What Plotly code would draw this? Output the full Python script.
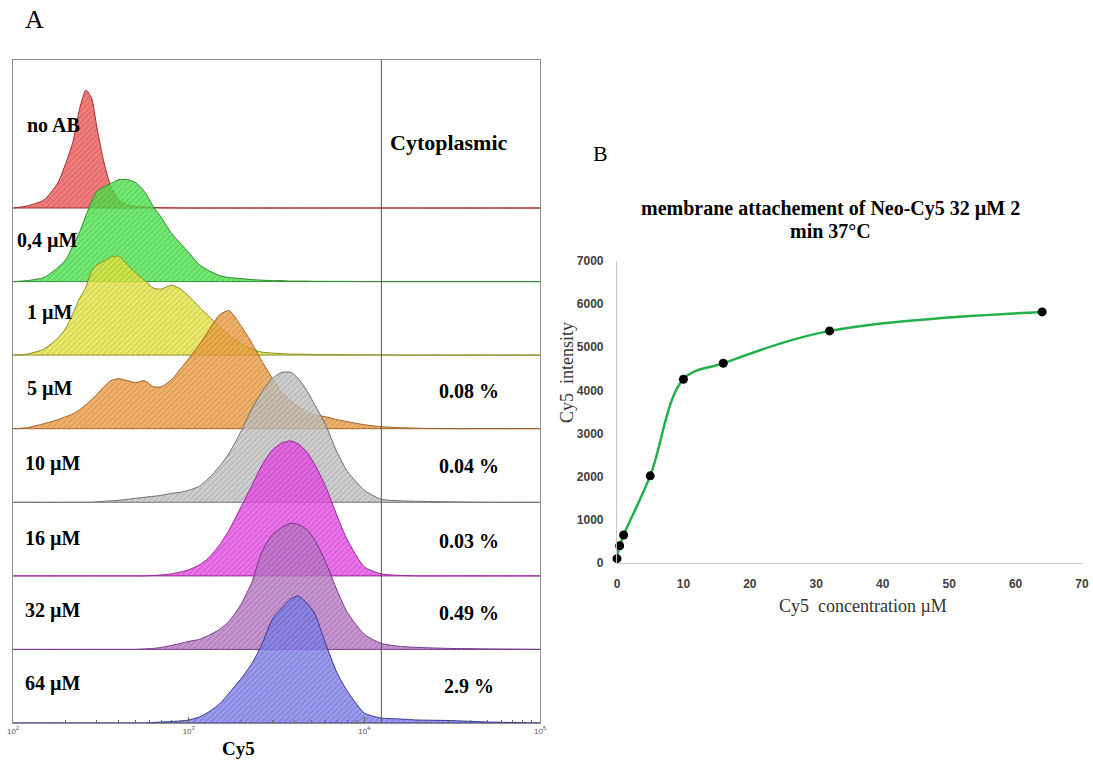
import plotly.graph_objects as go

W, H = 1093, 764

# ---------------- Panel A data (flow cytometry histograms) ----------------
cy5_intensity = [100, 120, 150, 180, 200, 220, 240, 260, 280, 300, 330, 360, 400, 450, 500,
                 560, 630, 700, 800, 900, 1000, 1150, 1300, 1500, 1700, 2000, 2300, 2600,
                 3000, 3400, 3800, 4200, 4700, 5200, 6000, 7000, 8000, 10000, 12500, 16000,
                 20000, 30000, 50000, 100000]

samples = ["no AB", "0,4 µM", "1 µM", "5 µM", "10 µM", "16 µM", "32 µM", "64 µM"]

counts_noAB = [0, 2, 8, 25, 45, 67, 100, 118, 110, 81, 45, 22, 8, 3, 1.5,
               1, 0.5, 0.3, 0.2, 0, 0, 0, 0, 0, 0, 0, 0, 0,
               0, 0, 0, 0, 0, 0, 0, 0, 0, 0, 0, 0, 0, 0, 0, 0]
counts_04 = [0, 1, 4, 14, 22, 36, 50, 66, 80, 90, 95, 98, 102, 102, 99,
             90, 75, 64, 48, 38, 29, 17, 11, 6, 4, 3, 2, 1.5,
             1, 1, 0.5, 0.5, 0.5, 0.3, 0.3, 0.2, 0.2, 0, 0, 0, 0, 0, 0, 0]
counts_1 = [0, 1, 6, 17, 27, 42, 57, 68, 84, 90, 94, 98, 99, 90, 82,
            75, 67, 66, 70, 66, 59, 48, 39, 28, 20, 11, 6, 3,
            2, 1.5, 1, 1, 0.8, 0.6, 0.5, 0.4, 0.3, 0.2, 0.2, 0, 0, 0, 0, 0]
counts_5 = [0, 1, 5, 9, 12, 15, 19, 24, 29, 34, 42, 48, 50, 48, 46,
            48, 42, 42, 49, 60, 70, 84, 98, 114, 118, 102, 85, 68,
            50, 36, 28, 22, 17, 14, 12, 9, 7, 4, 2, 1, 0.5, 0, 0, 0]
counts_10 = [0, 0, 0, 0, 0, 0, 0, 0, 0, 0.5, 1, 1.5, 2, 3, 4,
             5, 6, 7, 9, 10, 12, 16, 24, 36, 49, 72, 94, 110,
             124, 130, 130, 124, 112, 98, 78, 50, 31, 12, 3, 1.5, 1, 0.5, 0, 0]
counts_16 = [0, 0, 0, 0, 0, 0, 0, 0, 0, 0, 0, 0, 0, 0, 0,
             0, 0.5, 1, 2, 4, 6, 11, 18, 31, 46, 70, 91, 110,
             126, 133, 135, 132, 124, 112, 90, 60, 36, 9, 2, 0.5, 0, 0, 0, 0]
counts_32 = [0, 0, 0, 0, 0, 0, 0, 0, 0, 0, 0, 0, 0, 0, 0,
             0.5, 1, 2, 4, 6, 8, 10, 14, 20, 28, 46, 68, 97,
             115, 122, 126, 125, 120, 110, 88, 59, 37, 15, 6, 3, 2, 1, 0.5, 0]
counts_64 = [0, 0, 0, 0, 0, 0, 0, 0, 0, 0, 0, 0, 0, 0, 0,
             0, 0.5, 1, 1.5, 2, 3, 6, 11, 19, 30, 45, 60, 78,
             104, 115, 124, 127, 120, 110, 80, 50, 32, 10, 5, 4, 3, 2.5, 1, 0]
all_counts = [counts_noAB, counts_04, counts_1, counts_5, counts_10, counts_16, counts_32, counts_64]

row_offsets = [515, 441.4, 367.9, 294.3, 220.7, 147.1, 73.6, 0]

cytoplasmic_pct = ["", "", "", "0.08 %", "0.04 %", "0.03 %", "0.49 %", "2.9 %"]
gate_threshold = 12500

fill_rgb = [(238, 90, 90), (75, 228, 75), (230, 230, 65), (236, 156, 66),
            (195, 195, 195), (230, 75, 230), (185, 120, 195), (128, 128, 234)]
line_rgb = [(160, 45, 45), (45, 140, 45), (140, 140, 35), (160, 95, 35),
            (110, 110, 110), (150, 35, 150), (115, 55, 135), (55, 55, 145)]

# ---------------- Panel B data ----------------
conc_uM = [0, 0.4, 1, 5, 10, 16, 32, 64]
intensity = [100, 400, 650, 2020, 4260, 4630, 5380, 5820]

fig = go.Figure()

for i, name in enumerate(samples):
    off = row_offsets[i]
    top = [off + c for c in all_counts[i]]
    xs = cy5_intensity + cy5_intensity[::-1]
    ys = top + [off] * len(cy5_intensity)
    fr, fg_, fb = fill_rgb[i]
    lr, lg, lb = line_rgb[i]
    fig.add_trace(go.Scatter(
        x=xs, y=ys, mode="lines", fill="toself",
        fillcolor=f"rgba({fr},{fg_},{fb},0.78)",
        fillpattern=dict(shape="/", bgcolor=f"rgba({fr},{fg_},{fb},0.78)",
                         fgcolor=f"rgba({lr},{lg},{lb},0.6)", size=4, solidity=0.3),
        line=dict(color=f"rgb({lr},{lg},{lb})", width=1, shape="spline", smoothing=0.6),
        showlegend=False, xaxis="x", yaxis="y", hoverinfo="skip"))

fig.add_trace(go.Scatter(x=[gate_threshold, gate_threshold], y=[0, 663], mode="lines",
                         line=dict(color="#555555", width=1), showlegend=False,
                         xaxis="x", yaxis="y"))

fig.add_trace(go.Scatter(x=conc_uM, y=intensity, mode="lines+markers",
                         line=dict(color="#22b04b", width=2.5, shape="spline", smoothing=1.0),
                         marker=dict(color="black", size=9), cliponaxis=False,
                         showlegend=False, xaxis="x2", yaxis="y2"))


def px(x):
    return x / W


def py(y):
    return 1 - y / H


serif = "Liberation Serif, Times New Roman, serif"
tickfontB = dict(family="Liberation Sans, Arial", size=12, color="#404040", weight="bold")

fig.update_layout(
    width=W, height=H, margin=dict(l=0, r=0, t=0, b=0, autoexpand=False),
    paper_bgcolor="white", plot_bgcolor="rgba(0,0,0,0)",
    xaxis=dict(domain=[px(13), px(540)], type="log", range=[2, 5], automargin=False,
               showline=True, mirror=True, linecolor="#8c8c8c", linewidth=1,
               showgrid=False, zeroline=False,
               tickvals=[100, 1000, 10000, 100000],
               ticktext=["10<sup>2</sup>", "10<sup>3</sup>", "10<sup>4</sup>", "10<sup>5</sup>"],
               ticks="inside", ticklen=6, tickcolor="#666666",
               minor=dict(ticks="inside", ticklen=3, tickcolor="#666666",
                          tickvals=[m * 10 ** e for e in (2, 3, 4) for m in range(2, 10)]),
               tickfont=dict(family="Liberation Sans, Arial", size=8, color="#555555")),
    yaxis=dict(domain=[py(723), py(60)], range=[0, 663], showline=True, mirror=True,
               automargin=False,
               linecolor="#8c8c8c", linewidth=1, showgrid=False, zeroline=False,
               showticklabels=False, ticks=""),
    xaxis2=dict(domain=[px(617), px(1082)], range=[0, 70], anchor="y2", automargin=False,
                showline=True, linecolor="#c8c8c8", linewidth=1.2, showgrid=False,
                zeroline=False, dtick=10, ticks="outside", ticklen=9,
                tickcolor="rgba(0,0,0,0)", tickfont=tickfontB),
    yaxis2=dict(domain=[py(563), py(261)], range=[0, 7000], anchor="x2", automargin=False,
                showline=True, linecolor="#c8c8c8", linewidth=1.2, showgrid=False,
                zeroline=False, dtick=1000, ticks="outside", ticklen=10,
                tickcolor="rgba(0,0,0,0)", tickfont=tickfontB),
)

ann = []
# Panel letters
ann.append(dict(x=px(34), y=py(20), text="A", font=dict(family=serif, size=26, color="black")))
ann.append(dict(x=px(600), y=py(153), text="B", font=dict(family=serif, size=22, color="black")))

# Row labels
label_y = [125, 240, 313, 388, 463, 538, 610, 683]
label_x = [25, 15, 25, 25, 23, 23, 23, 23]
for name, lx, ly in zip(samples, label_x, label_y):
    ann.append(dict(x=px(lx), y=py(ly), text=f"<b>{name}</b>", xanchor="left",
                    font=dict(family=serif, size=20, color="black")))
ann.append(dict(x=px(449), y=py(142), text="<b>Cytoplasmic</b>",
                font=dict(family=serif, size=22, color="black")))
for pct, ly in zip(cytoplasmic_pct, label_y):
    if pct:
        ann.append(dict(x=px(469), y=py(ly + 3), text=f"<b>{pct}</b>",
                        font=dict(family=serif, size=20, color="black")))
ann.append(dict(x=px(238), y=py(748), text="<b>Cy5</b>",
                font=dict(family=serif, size=19, color="black")))

# Panel B texts
ann.append(dict(x=px(830), y=py(208),
                text="<b>membrane attachement of Neo-Cy5 32 µM 2</b>",
                font=dict(family=serif, size=20, color="black")))
ann.append(dict(x=px(830), y=py(231), text="<b>min 37°C</b>",
                font=dict(family=serif, size=20, color="black")))
ann.append(dict(x=px(567), y=py(373), text="Cy5  intensity", textangle=-90,
                font=dict(family=serif, size=18, color="#333333")))
ann.append(dict(x=px(863), y=py(606), text="Cy5  concentration µM",
                font=dict(family=serif, size=18, color="#333333")))

for a in ann:
    a.update(xref="paper", yref="paper", showarrow=False)
    a.setdefault("xanchor", "center")
    a.setdefault("yanchor", "middle")
fig.update_layout(annotations=ann)

# remove the browser's default 8px body margin so the figure fills the window exactly
fig.write_html("out.html", config={"displayModeBar": False},
               post_script="document.body.style.margin='0px';")
